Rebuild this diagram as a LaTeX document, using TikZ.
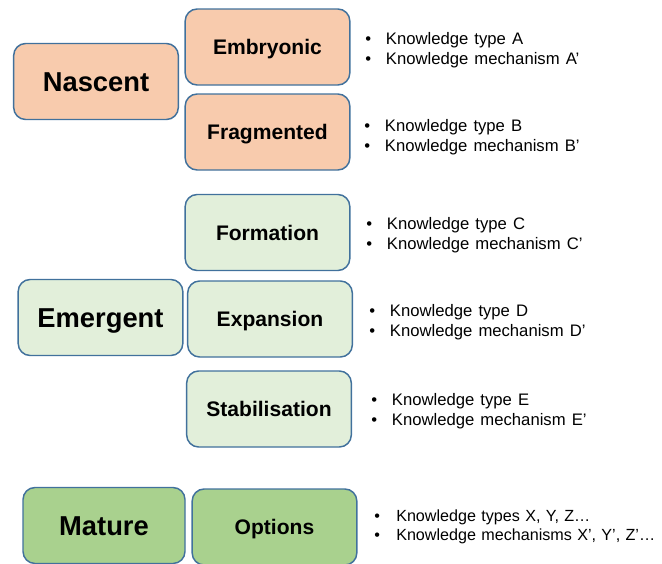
\documentclass[tikz,border=0pt]{standalone}
\usepackage{fontspec}
\setmainfont{Liberation Sans}
\usetikzlibrary{positioning}

\definecolor{edgeblue}{HTML}{41719C}
\definecolor{peach}{HTML}{F8CBAD}
\definecolor{palegreen}{HTML}{E2EFDA}
\definecolor{midgreen}{HTML}{A9D18E}

\newcommand{\notefont}{\fontsize{12.5}{14.9}\selectfont\spaceskip=4.6pt plus 1pt\relax}
\newcommand{\notefontnarrow}{\fontsize{12.1}{14}\selectfont\spaceskip=4pt plus 1pt\relax}
\newcommand{\bul}{\makebox[15.5pt][l]{•}}

\tikzset{
  stagebox/.style={draw=edgeblue, line width=1.1pt, rounded corners=9pt,
    minimum width=123.5pt, minimum height=57pt, inner sep=0pt, text=black},
  bigbox/.style={stagebox, font=\fontsize{20.5}{24}\selectfont\bfseries,
    text height=14.7pt, text depth=0pt},
  smallbox/.style={stagebox, font=\fontsize{15.8}{19}\selectfont\bfseries,
    text height=11.3pt, text depth=0pt},
  notes/.style={anchor=west, inner sep=0pt, align=left, font=\notefont},
}

\begin{document}
\begin{tikzpicture}[x=0.75pt, y=-0.75pt]
  \useasboundingbox (0,0) rectangle (662,564);

  % Nascent stage
  \node[bigbox, fill=peach] (nascent) at (96,81.5) {Nascent};
  \node[smallbox, fill=peach] (embryonic) at (267.5,47) {Embryonic};
  \node[smallbox, fill=peach] (fragmented) at (267.5,132) {Fragmented};

  % Emergent stage
  \node[bigbox, fill=palegreen] (emergent) at (100.5,317.5) {Emergent};
  \node[smallbox, fill=palegreen] (formation) at (267.5,232.5) {Formation};
  \node[smallbox, fill=palegreen] (expansion) at (270,319) {Expansion};
  \node[smallbox, fill=palegreen] (stabilisation) at (269,409) {Stabilisation};

  % Mature stage
  \node[bigbox, fill=midgreen, minimum width=121.5pt] (mature) at (104,525.5) {Mature};
  \node[smallbox, fill=midgreen] (options) at (274.5,527) {Options};

  % Knowledge notes
  \node[notes] (notesA) at (365,50) {\bul Knowledge type A\\\bul Knowledge mechanism A’};
  \node[notes] (notesB) at (364,137) {\bul Knowledge type B\\\bul Knowledge mechanism B’};
  \node[notes] (notesC) at (366,235.5) {\bul Knowledge type C\\\bul Knowledge mechanism C’};
  \node[notes] (notesD) at (369,322.5) {\bul Knowledge type D\\\bul Knowledge mechanism D’};
  \node[notes] (notesE) at (371,411.5) {\bul Knowledge type E\\\bul Knowledge mechanism E’};
  \node[notes, font=\notefontnarrow] (notesX) at (374,526.5)
    {\makebox[16.5pt][l]{•}Knowledge types X, Y, Z…\\\makebox[16.5pt][l]{•}Knowledge mechanisms X’, Y’, Z’…};
\end{tikzpicture}
\end{document}
